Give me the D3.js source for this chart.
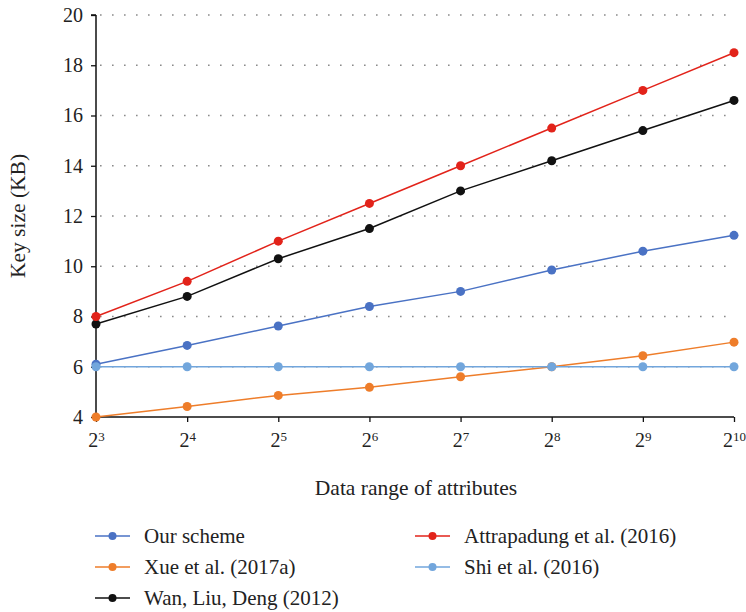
<!DOCTYPE html>
<html><head><meta charset="utf-8">
<script src="https://cdn.jsdelivr.net/npm/d3@7"></script>
<style>body{margin:0;background:#fff}svg{display:block}</style>
</head><body><svg id="c" width="746" height="612"></svg>
<script>
const exponents = [3,4,5,6,7,8,9,10];
const seriesNames = ["Our scheme","Xue et al. (2017a)","Wan, Liu, Deng (2012)","Attrapadung et al. (2016)","Shi et al. (2016)"];
const ourScheme = [6.1,6.85,7.62,8.4,9.0,9.85,10.6,11.23];
const xue = [4.0,4.42,4.86,5.18,5.6,6.0,6.44,6.98];
const wan = [7.7,8.8,10.3,11.5,13.0,14.2,15.4,16.6];
const attrapadung = [8.0,9.4,11.0,12.5,14.0,15.5,17.0,18.5];
const shi = [6,6,6,6,6,6,6,6];
const yTicks = [4,6,8,10,12,14,16,18,20];
const colors = ["#4a72c4","#ee7d2a","#111111","#e2231a","#72a6dc"];
const FONT = "'Liberation Serif'";

const svg = d3.select("#c");
const x = d3.scalePoint().domain(exponents).range([96,734]);
const y = d3.scaleLinear().domain([4,20]).range([417,15]);

// grid
svg.append("g").selectAll("line").data(yTicks.slice(1)).join("line")
  .attr("x1",100).attr("x2",734).attr("y1",d=>y(d)).attr("y2",d=>y(d))
  .attr("stroke","#8a8a8a").attr("stroke-width",1.6).attr("stroke-dasharray","1.6,10.4");

// y axis
const ya = svg.append("g").attr("transform","translate(96,0)")
  .call(d3.axisLeft(y).tickValues(yTicks).tickSize(5).tickPadding(8));
ya.attr("font-family",null);
ya.select(".domain").attr("stroke","#111").attr("stroke-width",1.5).attr("d","M0,"+y(4)+"V"+y(20)+"M-5,"+y(20)+"H0");
ya.selectAll(".tick line").attr("stroke","#111").attr("stroke-width",1.3);
ya.selectAll("text").style("font-size","20px").style("font-family",FONT).attr("fill","#222");

// x axis
const xa = svg.append("g").attr("transform","translate(0,417)")
  .call(d3.axisBottom(x).tickSize(5).tickPadding(8).tickFormat(""));
xa.attr("font-family",null);
xa.select(".domain").attr("stroke","#111").attr("stroke-width",1.5).attr("d","M96,0H734");
xa.selectAll(".tick line").attr("stroke","#111").attr("stroke-width",1.3);
xa.selectAll(".tick").each(function(d){
  const t = d3.select(this).append("text").attr("y",30).attr("text-anchor","middle").attr("fill","#222").style("font-family",FONT);
  t.append("tspan").style("font-size","20px").text("2");
  t.append("tspan").style("font-size","13px").attr("dy",-6).text(d);
});

// titles
svg.append("text").attr("transform","translate(25,216) rotate(-90)").attr("text-anchor","middle")
  .style("font-size","21.5px").style("font-family",FONT).attr("fill","#222").text("Key size (KB)");
svg.append("text").attr("x",416).attr("y",495).attr("text-anchor","middle")
  .style("font-size","21.5px").style("font-family",FONT).attr("fill","#222").text("Data range of attributes");

// series
const data = [ourScheme,xue,wan,attrapadung,shi];
const line = d3.line().x((d,i)=>x(exponents[i])).y(d=>y(d));
data.forEach((s,k)=>{
  const g = svg.append("g");
  g.append("path").datum(s).attr("d",line).attr("fill","none")
    .attr("stroke",colors[k]).attr("stroke-width",1.5);
  g.selectAll("circle").data(s).join("circle")
    .attr("cx",(d,i)=>x(exponents[i])).attr("cy",d=>y(d)).attr("r",4.5).attr("fill",colors[k]);
});

// legend
const legPos = [[95,536],[95,567],[95,598],[415,536],[415,567]];
seriesNames.forEach((n,k)=>{
  const [lx,ly] = legPos[k];
  const g = svg.append("g").attr("transform",`translate(${lx},${ly})`);
  g.append("line").attr("x1",0).attr("x2",35).attr("stroke",colors[k]).attr("stroke-width",1.5);
  g.append("circle").attr("cx",17.5).attr("r",4).attr("fill",colors[k]);
  g.append("text").attr("x",49).attr("y",7).style("font-size","21px").style("font-family",FONT).attr("fill","#222").text(n);
});
</script></body></html>
